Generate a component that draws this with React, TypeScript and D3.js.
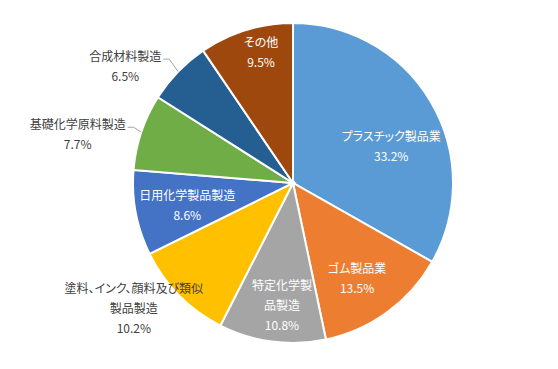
import React from "react";
import * as d3 from "d3";

const categories = [
  "プラスチック製品業",
  "ゴム製品業",
  "特定化学製品製造",
  "塗料、インク、顔料及び類似製品製造",
  "日用化学製品製造",
  "基礎化学原料製造",
  "合成材料製造",
  "その他",
];
const shares = [33.2, 13.5, 10.8, 10.2, 8.6, 7.7, 6.5, 9.5];
const labelLines = [
  ["プラスチック製品業"],
  ["ゴム製品業"],
  ["特定化学製", "品製造"],
  ["塗料、インク、顔料及び類似", "製品製造"],
  ["日用化学製品製造"],
  ["基礎化学原料製造"],
  ["合成材料製造"],
  ["その他"],
];
const colors = ["#5B9BD5", "#ED7D31", "#A5A5A5", "#FFC000", "#4472C4", "#70AD47", "#255E91", "#9E480E"];

// label placement: [angle deg from 12 o'clock, distance from centre], inside/outside
const labelPolar: [number, number, boolean][] = [
  [69.3, 105, true],
  [145.8, 114, true],
  [185.2, 122, true],
  [232, 202, false],
  [258.3, 108, true],
  [283, 221, false],
  [305.1, 205, false],
  [346.3, 135, true],
];

const W = 558;
const H = 369;
const cx = 293;
const cy = 183;
const R = 160;
const lineH = 20;

export default function App() {
  const data = categories.map((c, i) => ({ name: c, value: shares[i], i }));
  const pie = d3.pie<any>().sort(null).value((d) => d.value);
  const arcs = pie(data);
  const arc = d3.arc<any>().innerRadius(0).outerRadius(R);
  const rad = (deg: number) => (deg * Math.PI) / 180;

  return (
    <svg
      width={W}
      height={H}
      style={{ position: "absolute", left: 0, top: 0, fontFeatureSettings: "'palt'" }}
      fontFamily="'Noto Sans CJK JP', 'Noto Sans', sans-serif"
      fontSize={12}
    >
      <rect width={W} height={H} fill="#fff" />
      <g transform={`translate(${cx},${cy})`}>
        {arcs.map((a, i) => (
          <path key={i} d={arc(a) || ""} fill={colors[i]} stroke="#fff" strokeWidth={2} />
        ))}
        {arcs.map((a, i) => {
          const [ang, dist, inside] = labelPolar[i];
          const lx = dist * Math.sin(rad(ang));
          const ly = -dist * Math.cos(rad(ang));
          const lines = [...labelLines[i], `${shares[i].toFixed(1)}%`];
          const top = ly - ((lines.length - 1) * lineH) / 2;
          const fill = inside ? "#fff" : "#404040";
          let leader: React.ReactNode = null;
          if (!inside && (i === 5 || i === 6)) {
            const mid = (a.startAngle + a.endAngle) / 2;
            const ex = R * Math.sin(mid);
            const ey = -R * Math.cos(mid);
            const textW = labelLines[i][0].length * 12;
            const sx = lx + textW / 2 + 2;
            const sy = top + 4;
            leader = (
              <polyline
                points={`${sx},${sy} ${sx + 6},${sy} ${ex},${ey}`}
                fill="none"
                stroke="#A6A6A6"
                strokeWidth={1}
              />
            );
          }
          return (
            <g key={"l" + i}>
              {leader}
              {lines.map((t, k) => (
                <text
                  key={k}
                  x={lx}
                  y={top + k * lineH}
                  textAnchor="middle"
                  dominantBaseline="central"
                  fill={fill}
                >
                  {t}
                </text>
              ))}
            </g>
          );
        })}
      </g>
    </svg>
  );
}
